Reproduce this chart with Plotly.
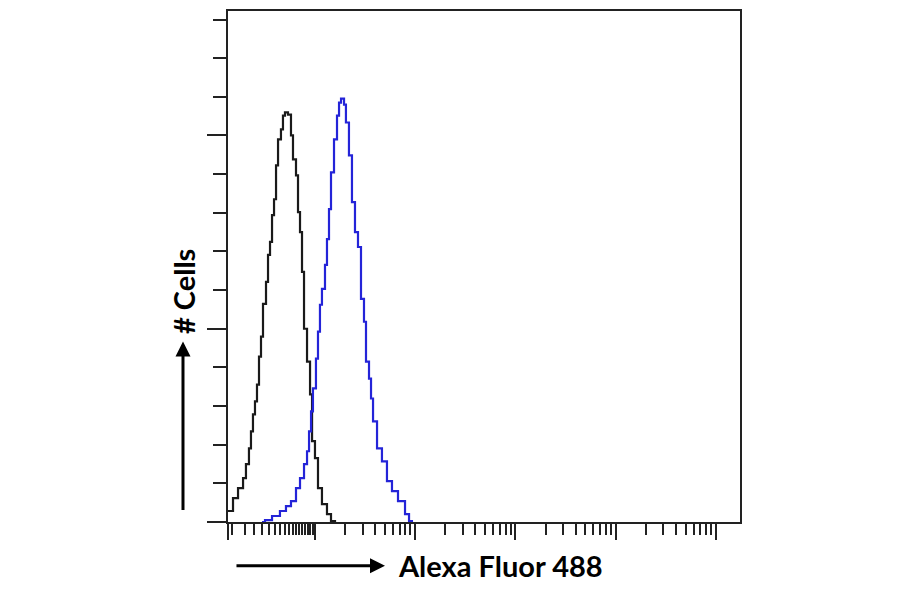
import plotly.graph_objects as go

# isotype control (black) - fluorescence intensity vs cell count, stepped histogram
ctrl_x = [1.365, 1.531, 1.718, 1.928, 2.061, 2.208, 2.312, 2.421, 2.535, 2.655,
          2.780, 2.911, 3.048, 3.266, 3.420, 3.581, 3.750, 3.926, 4.111, 4.305,
          4.603, 4.820, 5.047, 5.408, 5.794, 6.067, 6.501, 6.808, 7.129, 7.464,
          7.816, 8.375, 8.974, 9.397, 10.05, 10.77, 11.80, 13.24, 14.52, 15.92]
ctrl_y = [5.7, 12.4, 17.5, 22.7, 29.9, 38.1, 46.9, 55.7, 62.4, 71.1,
          85.6, 95.9, 112.9, 124.2, 138.2, 144.9, 158.8, 167.0, 184.5, 198.0,
          203.1, 210.3, 211.9, 210.8, 200.0, 187.6, 179.4, 160.3, 150.0, 129.4,
          100.0, 83.0, 66.0, 41.8, 33.0, 17.5, 9.3, 4.1, 0.5, 0.0]

# stained sample (blue)
stain_x = [2.979, 3.192, 3.750, 4.498, 5.164, 5.794, 6.501, 7.129, 7.816, 8.375,
           8.770, 9.183, 9.594, 10.28, 10.77, 11.27, 11.80, 12.65, 13.24, 13.87,
           14.52, 15.56, 16.67, 17.46, 18.28, 19.59, 20.46, 21.93, 23.50, 25.18,
           26.98, 28.91, 30.97, 32.43, 34.75, 36.39, 38.11, 41.78, 46.77, 52.48,
           58.88, 67.61, 79.43, 87.10, 93.11]
stain_y = [0.0, 1.0, 3.1, 5.7, 8.2, 10.8, 17.5, 22.7, 29.9, 36.6,
           46.9, 57.2, 69.1, 84.5, 98.5, 112.4, 120.6, 133.0, 146.4, 161.9,
           180.9, 198.0, 210.3, 217.0, 219.1, 216.0, 206.7, 189.7, 165.5, 150.0,
           142.3, 115.5, 103.6, 83.0, 74.2, 63.9, 52.1, 38.1, 31.4, 21.1,
           16.0, 10.8, 4.1, 0.5, 0.0]

# axis ticks
x_major = [1.365, 10, 100, 1000, 10000, 100000]
x_minor = [1.5, 2, 2.5, 3, 3.5, 4, 4.5, 5, 5.5, 6, 6.5, 7, 7.5, 8, 8.5, 9, 9.5]
for dec in [10, 100, 1000, 10000, 100000]:
    x_minor += [m * dec for m in range(2, 10)]
y_major = [0, 100, 200]

fig = go.Figure()

fig.add_trace(go.Scatter(x=ctrl_x, y=ctrl_y, mode='lines', line_shape='hv',
                         line=dict(color='#1a1a1a', width=2.2),
                         showlegend=False, hoverinfo='skip'))
fig.add_trace(go.Scatter(x=stain_x, y=stain_y, mode='lines', line_shape='hv',
                         line=dict(color='#2424d8', width=2.2),
                         showlegend=False, hoverinfo='skip'))

# page body has an 8px margin, so the figure is 8px smaller than the window
fig.update_layout(
    width=892, height=586,
    margin=dict(l=220, r=160, t=1, b=72),
    plot_bgcolor='white', paper_bgcolor='white',
    xaxis=dict(type='log', range=[0.135, 5.24],
               showgrid=False, zeroline=False,
               showline=True, linecolor='#222', linewidth=2, mirror=True,
               ticks='outside', tickmode='array', tickvals=x_major,
               ticklen=16, tickwidth=2, tickcolor='#222', showticklabels=False,
               minor=dict(ticks='outside', tickmode='array', tickvals=x_minor,
                          ticklen=11, tickwidth=2, tickcolor='#222')),
    yaxis=dict(range=[0, 264.4],
               showgrid=False, zeroline=False,
               showline=True, linecolor='#222', linewidth=2, mirror=True,
               ticks='outside', tickmode='array', tickvals=y_major,
               ticklen=19, tickwidth=2, tickcolor='#222', showticklabels=False,
               minor=dict(ticks='outside', dtick=20, ticklen=13,
                          tickwidth=2, tickcolor='#222')),
)

label_font = dict(family='Lato, Open Sans, sans-serif', size=29, color='black')

# y axis label and arrow
fig.add_annotation(xref='paper', yref='paper', x=-0.0879, y=0.353,
                   ax=0, ay=170, text='', showarrow=True,
                   arrowhead=2, arrowsize=1, arrowwidth=3, arrowcolor='black')
fig.add_annotation(xref='paper', yref='paper', x=-0.0879, y=0.452,
                   xanchor='center', yanchor='middle',
                   text='<b># Cells</b>', showarrow=False, textangle=-90,
                   font=label_font)

# x axis label and arrow
fig.add_annotation(xref='paper', yref='paper', x=0.3066, y=-0.0858,
                   ax=-150, ay=0, text='', showarrow=True,
                   arrowhead=2, arrowsize=1, arrowwidth=3, arrowcolor='black')
fig.add_annotation(xref='paper', yref='paper', x=0.533, y=-0.0858,
                   xanchor='center', yanchor='middle',
                   text='<b>Alexa Fluor 488</b>', showarrow=False,
                   font=label_font)

fig.write_html("out.html")
